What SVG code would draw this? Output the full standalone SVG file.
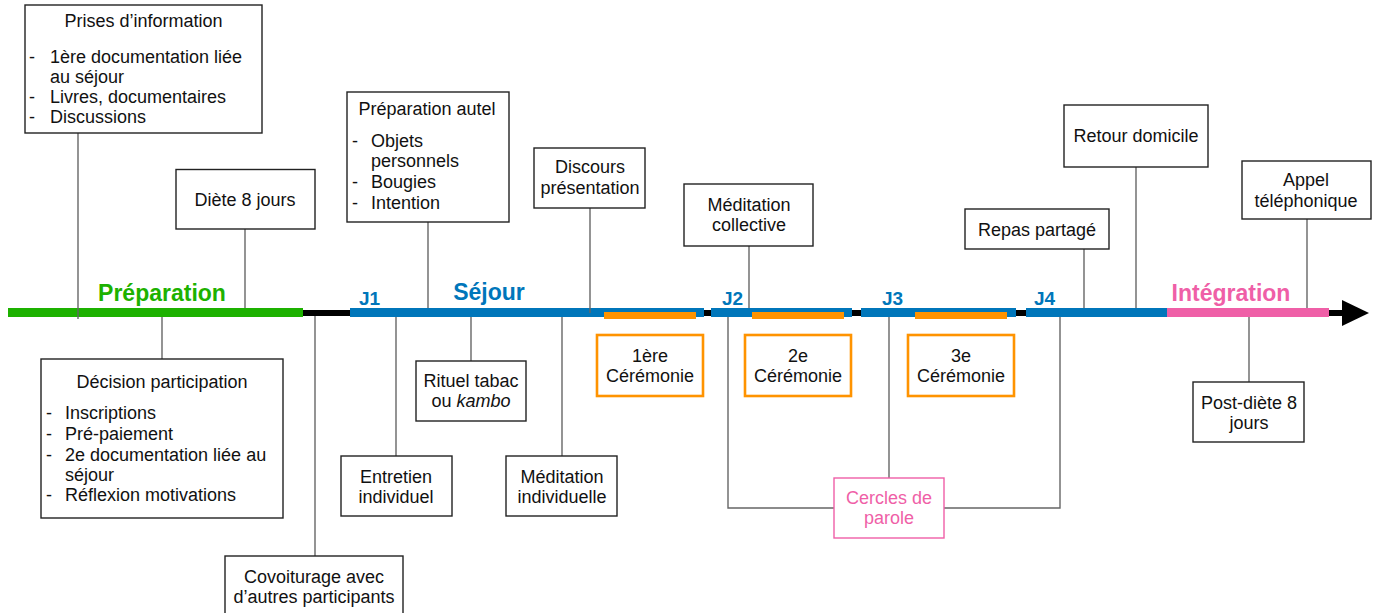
<svg xmlns="http://www.w3.org/2000/svg" width="1381" height="613" viewBox="0 0 1381 613">
<style>
text{font-family:"Liberation Sans",Arial,Helvetica,sans-serif;font-size:18px;fill:#111}
.c{text-anchor:middle}
.box{fill:#fff;stroke:#222;stroke-width:1.4}
.cer{fill:#fff;stroke:#FF9300;stroke-width:2.6}
.pk{fill:#fff;stroke:#EF5FA7;stroke-width:1.4}
.con{fill:none;stroke:#666;stroke-width:1.4}
.ph{font-size:23px;font-weight:bold;text-anchor:middle}
.j{font-size:19px;font-weight:bold;fill:#0076BA}
</style>
<rect width="1381" height="613" fill="#fff"/>
<g id="timeline">
<line x1="290" y1="313" x2="1346" y2="313" stroke="#000" stroke-width="6"/>
<polygon points="1342,300 1369,313 1342,326" fill="#000"/>
<rect x="8" y="308" width="295" height="9" fill="#1DB100"/>
<rect x="350" y="308" width="354" height="9" fill="#0076BA"/>
<rect x="711" y="308" width="141" height="9" fill="#0076BA"/>
<rect x="861" y="308" width="155" height="9" fill="#0076BA"/>
<rect x="1026" y="308" width="141" height="9" fill="#0076BA"/>
<rect x="1167" y="308" width="162" height="9" fill="#EF5FA7"/>
<rect x="604" y="312" width="92" height="7" fill="#FF9300"/>
<rect x="752" y="312" width="92" height="7" fill="#FF9300"/>
<rect x="915" y="312" width="92" height="7" fill="#FF9300"/>
<text class="ph" x="162" y="301" style="fill:#1DB100">Préparation</text>
<text class="ph" x="489" y="300" style="fill:#0076BA">Séjour</text>
<text class="ph" x="1231" y="301" style="fill:#EF5FA7">Intégration</text>
<text class="j" x="359" y="305">J1</text>
<text class="j" x="722" y="305">J2</text>
<text class="j" x="882" y="305">J3</text>
<text class="j" x="1034" y="305">J4</text>
</g>
<g id="connectors">
<line class="con" x1="78" y1="133" x2="78" y2="319"/>
<line class="con" x1="245" y1="229" x2="245" y2="308"/>
<line class="con" x1="162" y1="317" x2="162" y2="359"/>
<line class="con" x1="315" y1="316" x2="315" y2="556"/>
<line class="con" x1="428" y1="222" x2="428" y2="308"/>
<line class="con" x1="590" y1="208" x2="590" y2="313"/>
<line class="con" x1="471" y1="317" x2="471" y2="361"/>
<line class="con" x1="396" y1="317" x2="396" y2="456"/>
<line class="con" x1="562" y1="317" x2="562" y2="456"/>
<line class="con" x1="749" y1="246" x2="749" y2="308"/>
<polyline class="con" points="728,317 728,508 834,508"/>
<line class="con" x1="889" y1="317" x2="889" y2="478"/>
<polyline class="con" points="1060,317 1060,508 944,508"/>
<line class="con" x1="1084" y1="249" x2="1084" y2="308"/>
<line class="con" x1="1136" y1="167" x2="1136" y2="308"/>
<line class="con" x1="1307" y1="219" x2="1307" y2="308"/>
<line class="con" x1="1249" y1="317" x2="1249" y2="382"/>
</g>
<g id="prises">
<rect class="box" x="25" y="5" width="237" height="128"/>
<text class="c" x="143.5" y="27">Prises d’information</text>
<text x="29" y="63">-</text><text x="50" y="63">1ère documentation liée</text>
<text x="50" y="83">au séjour</text>
<text x="29" y="103">-</text><text x="50" y="103">Livres, documentaires</text>
<text x="29" y="123">-</text><text x="50" y="123">Discussions</text>
</g>
<g id="diete">
<rect class="box" x="176" y="169.5" width="139" height="59.5"/>
<text class="c" x="245" y="206">Diète 8 jours</text>
</g>
<g id="decision">
<rect class="box" x="41" y="359" width="242" height="159"/>
<text class="c" x="162" y="388">Décision participation</text>
<text x="46" y="419">-</text><text x="65" y="419">Inscriptions</text>
<text x="46" y="440">-</text><text x="65" y="440">Pré-paiement</text>
<text x="46" y="461">-</text><text x="65" y="461">2e documentation liée au</text>
<text x="65" y="481">séjour</text>
<text x="46" y="501">-</text><text x="65" y="501">Réflexion motivations</text>
</g>
<g id="covoiturage">
<rect class="box" x="225" y="556" width="178" height="70"/>
<text class="c" x="314" y="583">Covoiturage avec</text>
<text class="c" x="314" y="603">d’autres participants</text>
</g>
<g id="autel">
<rect class="box" x="347" y="92" width="162" height="130"/>
<text class="c" x="427" y="115">Préparation autel</text>
<text x="352" y="147">-</text><text x="371" y="147">Objets</text>
<text x="371" y="167">personnels</text>
<text x="352" y="188">-</text><text x="371" y="188">Bougies</text>
<text x="352" y="209">-</text><text x="371" y="209">Intention</text>
</g>
<g id="discours">
<rect class="box" x="534" y="148" width="111" height="60"/>
<text class="c" x="590" y="173">Discours</text>
<text class="c" x="590" y="194">présentation</text>
</g>
<g id="rituel">
<rect class="box" x="416" y="361" width="110" height="60"/>
<text class="c" x="471" y="387">Rituel tabac</text>
<text class="c" x="471" y="407">ou <tspan font-style="italic">kambo</tspan></text>
</g>
<g id="entretien">
<rect class="box" x="341" y="456" width="111" height="60"/>
<text class="c" x="396" y="483">Entretien</text>
<text class="c" x="396" y="503">individuel</text>
</g>
<g id="medind">
<rect class="box" x="506" y="456" width="111" height="60"/>
<text class="c" x="562" y="483">Méditation</text>
<text class="c" x="562" y="503">individuelle</text>
</g>
<g id="cer1">
<rect class="cer" x="597" y="335" width="106" height="61"/>
<text class="c" x="650" y="362">1ère</text>
<text class="c" x="650" y="382">Cérémonie</text>
</g>
<g id="cer2">
<rect class="cer" x="745" y="335" width="106" height="61"/>
<text class="c" x="798" y="362">2e</text>
<text class="c" x="798" y="382">Cérémonie</text>
</g>
<g id="cer3">
<rect class="cer" x="908" y="335" width="106" height="61"/>
<text class="c" x="961" y="362">3e</text>
<text class="c" x="961" y="382">Cérémonie</text>
</g>
<g id="medcol">
<rect class="box" x="684" y="184" width="129" height="62"/>
<text class="c" x="749" y="211">Méditation</text>
<text class="c" x="749" y="231">collective</text>
</g>
<g id="cercles">
<rect class="pk" x="834" y="478" width="110" height="60"/>
<text class="c" x="889" y="504" style="fill:#EF5FA7">Cercles de</text>
<text class="c" x="889" y="524" style="fill:#EF5FA7">parole</text>
</g>
<g id="repas">
<rect class="box" x="965" y="209" width="144" height="40"/>
<text class="c" x="1037" y="236">Repas partagé</text>
</g>
<g id="retour">
<rect class="box" x="1064" y="105" width="144" height="62"/>
<text class="c" x="1136" y="142">Retour domicile</text>
</g>
<g id="appel">
<rect class="box" x="1242" y="161" width="129" height="58"/>
<text class="c" x="1306" y="186">Appel</text>
<text class="c" x="1306" y="207">téléphonique</text>
</g>
<g id="postdiete">
<rect class="box" x="1193" y="382" width="111" height="60"/>
<text class="c" x="1249" y="409">Post-diète 8</text>
<text class="c" x="1249" y="429">jours</text>
</g>
</svg>
